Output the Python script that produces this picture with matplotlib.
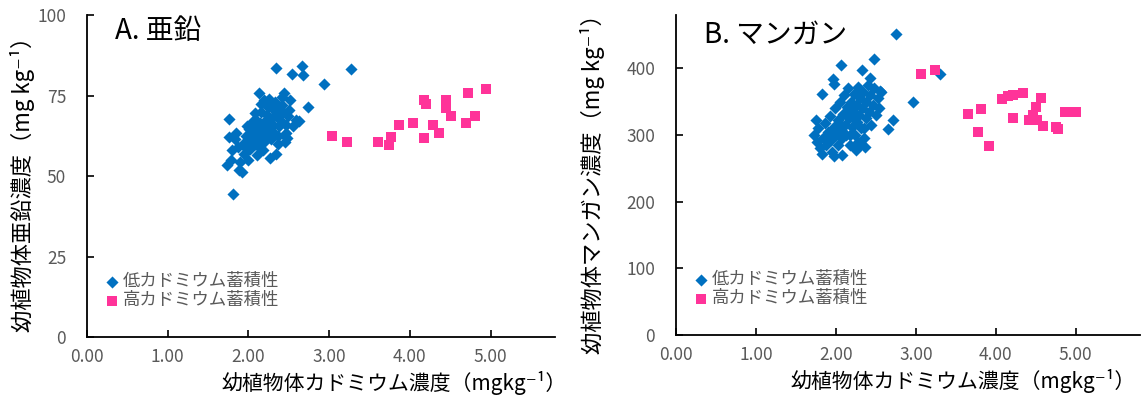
import matplotlib
matplotlib.use("Agg")
import matplotlib.pyplot as plt

plt.rcParams['font.family'] = ['Noto Sans CJK JP', 'DejaVu Sans']

# ---- data: panel A (zinc) ----
zn_low_x = [2.34, 2.66, 2.54, 2.68, 3.27, 2.94, 2.74, 2.63, 1.76, 1.81,
            1.73, 1.78, 1.80, 1.83, 1.85, 1.76, 1.88, 1.92, 1.90, 1.95,
            1.93, 1.97, 1.98, 2.00, 2.02, 2.03, 2.05, 2.06, 2.08, 2.10,
            2.11, 2.12, 2.13, 2.14, 2.15, 2.13, 2.16, 2.18, 2.19, 2.20,
            2.21, 2.22, 2.23, 2.24, 2.25, 2.27, 2.28, 2.29, 2.30, 2.31,
            2.32, 2.33, 2.34, 2.36, 2.37, 2.38, 2.39, 2.40, 2.41, 2.42,
            2.44, 2.45, 2.46, 2.47, 2.48, 2.49, 2.50, 2.52, 2.55, 2.59,
            2.08, 2.17, 2.26, 1.96, 2.04, 2.19, 2.28, 2.35, 2.22, 2.31,
            2.43, 2.10, 2.01, 1.87, 2.26]
zn_low_y = [83.6, 84.2, 81.7, 81.4, 83.4, 78.7, 71.3, 67.1, 67.7, 44.4,
            53.5, 55.0, 58.0, 61.5, 63.5, 62.0, 52.0, 51.3, 54.5, 57.0,
            60.0, 62.5, 65.5, 55.0, 58.5, 61.0, 63.5, 67.0, 69.5, 56.5,
            59.5, 62.0, 64.5, 66.5, 70.0, 75.7, 72.5, 58.0, 60.5, 63.0,
            65.0, 67.5, 69.0, 71.5, 74.0, 55.5, 61.5, 64.0, 66.0, 68.5,
            70.5, 73.0, 57.0, 60.0, 62.5, 65.5, 67.5, 69.5, 72.0, 74.5,
            75.7, 60.5, 63.5, 66.0, 61.8, 68.5, 70.5, 73.6, 65.5, 67.4,
            60.0, 61.8, 65.8, 59.0, 66.0, 73.5, 72.0, 71.0, 64.0, 63.0,
            70.0, 67.0, 64.5, 59.0, 68.0]
zn_high_x = [3.03, 3.22, 3.61, 3.74, 3.77, 3.86, 4.04, 4.17, 4.20, 4.17,
             4.29, 4.36, 4.45, 4.45, 4.51, 4.72, 4.80, 4.70, 4.94]
zn_high_y = [62.4, 60.7, 60.7, 59.6, 62.2, 65.8, 66.6, 73.6, 72.5, 61.7,
             65.8, 63.5, 73.6, 71.0, 68.6, 75.7, 68.7, 66.6, 77.0]

# ---- data: panel B (manganese) ----
mn_low_x = [2.75, 2.48, 2.06, 2.96, 1.82, 1.75, 2.71, 2.65, 1.96, 1.98,
            2.32, 2.42, 2.55, 1.82, 3.30,
            1.72, 1.76, 1.78, 1.80, 1.84, 1.86, 1.88, 1.90, 1.92, 1.94,
            1.95, 1.97, 1.99, 2.00, 2.02, 2.03, 2.05, 2.06, 2.08, 2.09,
            2.10, 2.11, 2.13, 2.14, 2.15, 2.16, 2.18, 2.19, 2.20, 2.21,
            2.22, 2.24, 2.25, 2.26, 2.27, 2.29, 2.30, 2.31, 2.33, 2.34,
            2.35, 2.37, 2.38, 2.40, 2.41, 2.43, 2.44, 2.46, 2.48, 2.50,
            2.52, 2.54, 2.56, 2.07, 1.98, 2.28, 2.30, 2.36, 2.25, 2.12,
            2.23, 2.35, 2.18, 2.04]
mn_low_y = [451, 414.5, 404.5, 349.5, 361, 323, 323, 309.6, 384.5, 377,
            397, 386, 365.5, 272, 391,
            300, 290, 310, 280, 296, 318, 285, 305, 328, 292,
            275, 312, 340, 300, 285, 322, 350, 308, 295, 332,
            360, 315, 300, 342, 370, 325, 285, 350, 312, 336,
            362, 300, 345, 320, 372, 330, 355, 310, 340, 365,
            295, 325, 350, 375, 335, 360, 315, 345, 370, 330,
            355, 340, 365, 270, 268, 290, 285, 282, 278, 330,
            325, 310, 300, 318]
mn_high_x = [3.07, 3.24, 3.65, 3.81, 3.78, 3.91, 4.08, 4.21, 4.34, 4.22,
             4.56, 4.50, 4.41, 4.52, 4.59, 4.75, 4.78, 4.86, 4.94, 5.00,
             4.15, 4.47]
mn_high_y = [391, 397, 331, 338.6, 304.6, 283, 354.6, 360.5, 363.6, 326,
             356, 342, 323, 323, 313.6, 312, 309.6, 334.6, 334.6, 334.6,
             358, 330]

low_label = '低カドミウム蓄積性'
high_label = '高カドミウム蓄積性'
x_label = '幼植物体カドミウム濃度（mgkg⁻¹）'

blue = '#0070C0'
pink = '#FF3399'
gray = '#595959'

fig = plt.figure(figsize=(11.42, 4.08), dpi=100)
axA = fig.add_axes([0.0762, 0.174, 0.410, 0.789])
axB = fig.add_axes([0.592, 0.179, 0.406, 0.784])


def style_axis(ax):
    for side in ['top', 'right']:
        ax.spines[side].set_visible(False)
    for side in ['left', 'bottom']:
        ax.spines[side].set_linewidth(1.3)
    ax.tick_params(axis='both', direction='in', length=5, width=1.2,
                   labelsize=12.5, labelcolor=gray)
    ax.tick_params(axis='y', pad=15)
    ax.tick_params(axis='x', pad=8)
    ax.set_xlim(0, 5.8)
    ax.set_xticks([0, 1, 2, 3, 4, 5])
    ax.set_xticklabels(['0.00', '1.00', '2.00', '3.00', '4.00', '5.00'])


# panel A
axA.scatter(zn_low_x, zn_low_y, marker='D', s=38, color=blue, linewidths=0,
            label=low_label)
axA.scatter(zn_high_x, zn_high_y, marker='s', s=62, color=pink, linewidths=0,
            label=high_label)
style_axis(axA)
axA.set_ylim(0, 100)
axA.set_yticks([0, 25, 50, 75, 100])
axA.set_ylabel('幼植物体亜鉛濃度（mg kg⁻¹）', fontsize=16)
axA.yaxis.set_label_coords(-0.111, 0.49)
axA.set_xlabel(x_label, fontsize=15)
axA.xaxis.set_label_coords(0.655, -0.105)
axA.text(0.06, 0.95, 'A. 亜鉛', transform=axA.transAxes, fontsize=20,
         va='center', ha='left')

# panel B
axB.scatter(mn_low_x, mn_low_y, marker='D', s=38, color=blue, linewidths=0,
            label=low_label)
axB.scatter(mn_high_x, mn_high_y, marker='s', s=62, color=pink, linewidths=0,
            label=high_label)
style_axis(axB)
axB.set_ylim(0, 480)
axB.set_yticks([0, 100, 200, 300, 400])
axB.set_ylabel('幼植物体マンガン濃度（mg kg⁻¹）', fontsize=16)
axB.yaxis.set_label_coords(-0.153, 0.49)
axB.set_xlabel(x_label, fontsize=15)
axB.xaxis.set_label_coords(0.62, -0.105)
axB.text(0.06, 0.94, 'B. マンガン', transform=axB.transAxes, fontsize=20,
         va='center', ha='left')

for ax in [axA, axB]:
    leg = ax.legend(loc='lower left', bbox_to_anchor=(0.02, 0.065),
                    frameon=False, fontsize=12.5, handletextpad=0.1,
                    labelspacing=0.05, handlelength=1.0, borderaxespad=0)
    for t in leg.get_texts():
        t.set_color(gray)

fig.savefig('out.png', dpi=100)
